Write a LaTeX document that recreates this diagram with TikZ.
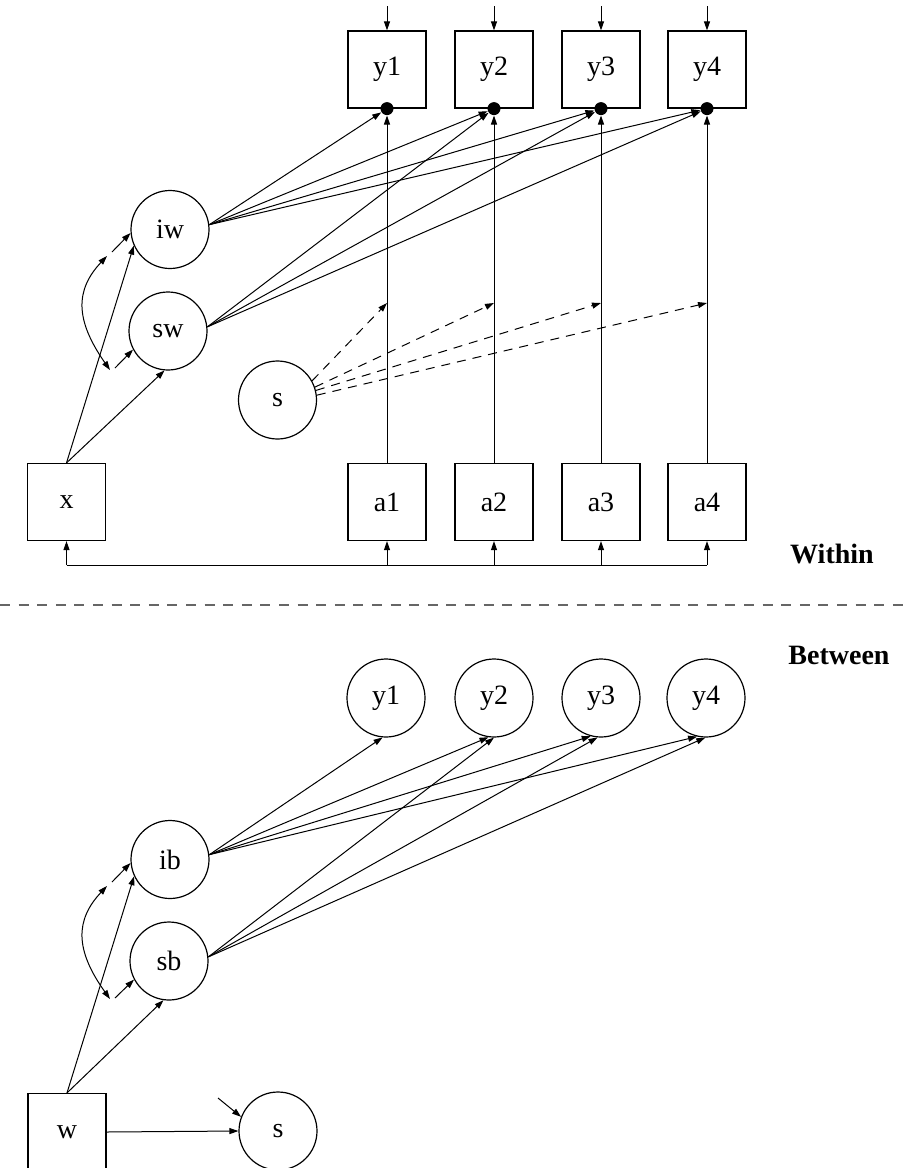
\documentclass[tikz,border=0pt]{standalone}
\usepackage{fontspec}
\setmainfont{Liberation Serif}
\usetikzlibrary{arrows.meta,calc}
\begin{document}
\begin{tikzpicture}[x=0.5pt,y=-0.5pt,
  every node/.style={font=\fontsize{14}{16}\selectfont},
  obs/.style={draw,line width=0.6pt,minimum width=39pt,minimum height=38.5pt,inner sep=0pt},
  lat/.style={draw,circle,line width=0.6pt,minimum size=39pt,inner sep=0pt},
  dotn/.style={circle,fill=black,minimum size=6.5pt,inner sep=0pt},
  arr/.style={-{Triangle[length=4.5pt,width=3pt]},line width=0.5pt},
  dbl/.style={{Triangle[length=4.5pt,width=3pt]}-{Triangle[length=4.5pt,width=3pt]},line width=0.5pt},
  dsh/.style={arr,dash pattern=on 4.5pt off 3.5pt},
  sep/.style={draw=black!60,line width=0.6pt,dash pattern=on 5pt off 4.3pt},
  lbl/.style={font=\fontsize{14}{16}\selectfont\bfseries}
]
\useasboundingbox (0,0) rectangle (911,1168);

% ---------------- Within ----------------
\node[obs] (y1) at (387,69.5) {y1};
\node[obs] (y2) at (494,69.5) {y2};
\node[obs] (y3) at (601,69.5) {y3};
\node[obs] (y4) at (707,69.5) {y4};
\node[dotn] (d1) at (y1.south) {};
\node[dotn] (d2) at (y2.south) {};
\node[dotn] (d3) at (y3.south) {};
\node[dotn] (d4) at (y4.south) {};

\node[lat] (iw) at (170,229.5) {iw};
\node[lat] (sw) at (168,331) {sw};
\node[lat] (s) at (277.5,400) {s};

\node[obs] (x) at (66.5,502) {x};
\node[obs] (a1) at (387,502) {a1};
\node[obs] (a2) at (494,502) {a2};
\node[obs] (a3) at (601,502) {a3};
\node[obs] (a4) at (707,502) {a4};

\node[lbl] (within) at (832,554) {Within};
\node[lbl] (between) at (839,655) {Between};

\coordinate (dl) at (0,605);
\coordinate (dr) at (911,605);
\draw[sep] (dl) -- (dr);

% residual arrows into y boxes
\foreach \i in {1,2,3,4}{
  \coordinate (r\i) at ($(y\i.north)+(0,-24)$);
  \draw[arr] (r\i) -- (y\i.north);
}

% a -> y (vertical)
\foreach \i in {1,2,3,4}{
  \draw[arr] (a\i.north) -- (d\i);
  \coordinate (m\i) at (a\i.north |- 0,303);
}

% iw and sw loadings
\foreach \i in {1,2,3,4}{ \draw[arr] (iw.7) -- (d\i); }
\foreach \i in {2,3,4}{ \draw[arr] (sw.6) -- (d\i); }

% s dashed arrows
\draw[dsh] (s.29) -- (m1);
\draw[dsh] (s.19) -- (m2);
\draw[dsh] (s.14) -- (m3);
\draw[dsh] (s.7) -- (m4);

% x -> iw, sw
\draw[arr] (x.north) -- (iw.204);
\draw[arr] (x.north) -- (sw.265);

% covariance iw sw
\coordinate (cwt) at (107,256);
\coordinate (cwb) at (110,370);
\draw[dbl] (cwt) .. controls (75,290) and (75,320) .. (cwb);
\coordinate (swt) at (112,252);
\coordinate (swb) at (115,368);
\draw[arr] (swt) -- (iw.185);
\draw[arr] (swb) -- (sw.208);

% covariances among x and a
\coordinate (hb) at (0,565);
\draw[line width=0.5pt] (x.south |- hb) -- (a4.south |- hb);
\foreach \n in {x,a1,a2,a3,a4}{ \draw[arr] (\n.south |- hb) -- (\n.south); }

% ---------------- Between ----------------
\node[lat] (yb1) at (386,698) {y1};
\node[lat] (yb2) at (494,698) {y2};
\node[lat] (yb3) at (601,698) {y3};
\node[lat] (yb4) at (706,698) {y4};

\node[lat] (ib) at (170,859.5) {ib};
\node[lat] (sb) at (169,961) {sb};
\node[obs] (w) at (67,1132) {w};
\node[lat] (sB) at (278,1131) {s};

\draw[arr] (ib.7) -- (yb1.265);
\draw[arr] (ib.7) -- (yb2.262);
\draw[arr] (ib.7) -- (yb3.255);
\draw[arr] (ib.7) -- (yb4.257);
\draw[arr] (sb.6) -- (yb2.270);
\draw[arr] (sb.6) -- (yb3.265);
\draw[arr] (sb.6) -- (yb4.269);

\draw[arr] (w.north) -- (ib.205);
\draw[arr] (w.north) -- (sb.262);
\draw[arr] (w.east) -- (sB.west);
\coordinate (rs) at (218,1098);
\draw[arr] (rs) -- (sB.159);

\coordinate (cbt) at (107,886);
\coordinate (cbb) at (110,999);
\draw[dbl] (cbt) .. controls (75,920) and (75,950) .. (cbb);
\coordinate (sbt) at (112,882);
\coordinate (sbb) at (115,998);
\draw[arr] (sbt) -- (ib.185);
\draw[arr] (sbb) -- (sb.208);

\end{tikzpicture}
\end{document}
